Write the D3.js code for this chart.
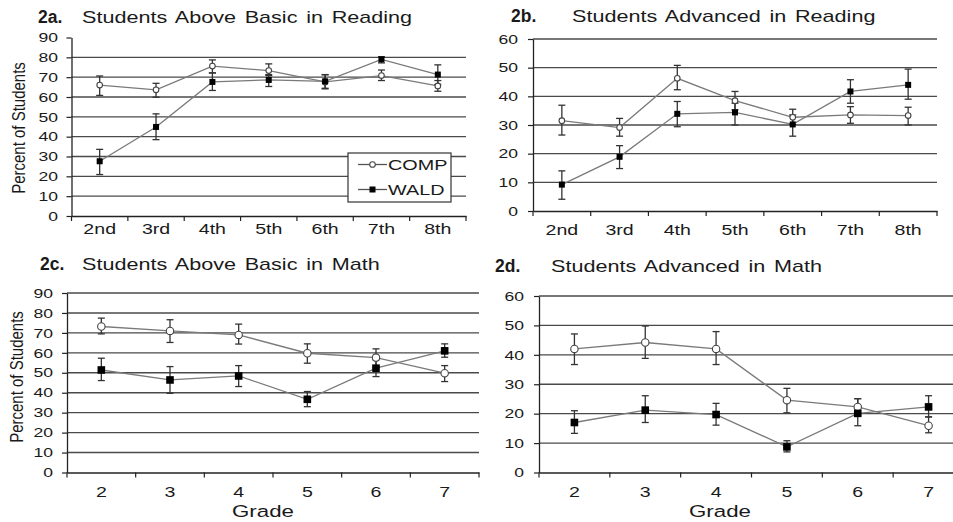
<!DOCTYPE html>
<html><head><meta charset="utf-8">
<script src="https://cdn.jsdelivr.net/npm/d3@7"></script>
<style>
body{margin:0;background:#fff}
svg{display:block;background:#fff}
text{font-family:"Liberation Sans",Arial,sans-serif;fill:#1a1a1a}
</style>
</head><body>
<svg id="c" width="953" height="522"></svg>
<script>
// ---------- data ----------
const readingGrades = ["2nd","3rd","4th","5th","6th","7th","8th"];
const mathGrades = ["2","3","4","5","6","7"];
const ticks90 = [0,10,20,30,40,50,60,70,80,90];
const ticks60 = [0,10,20,30,40,50,60];
const seriesNames = ["COMP","WALD"];

// 2a Students Above Basic in Reading
const compReadBasic   = [66.0, 63.6, 75.6, 73.3, 67.6, 70.8, 65.6];
const compReadBasicLo = [60.8, 59.9, 72.2, 70.8, 64.4, 68.3, 62.9];
const compReadBasicHi = [70.6, 66.9, 78.7, 76.7, 71.2, 73.6, 68.3];
const waldReadBasic   = [27.6, 44.9, 67.6, 68.6, 67.9, 79.0, 71.3];
const waldReadBasicLo = [20.9, 38.5, 63.3, 65.3, 64.1, 77.2, 66.3];
const waldReadBasicHi = [33.6, 51.5, 72.1, 71.3, 71.3, 80.3, 76.2];

// 2b Students Advanced in Reading
const compReadAdv   = [31.5, 29.1, 46.3, 38.5, 32.7, 33.5, 33.3];
const compReadAdvLo = [26.5, 26.1, 42.3, 35.3, 30.2, 30.6, 30.0];
const compReadAdvHi = [36.9, 32.3, 50.8, 41.7, 35.5, 36.4, 36.2];
const waldReadAdv   = [ 9.2, 18.9, 33.9, 34.4, 30.2, 41.7, 44.0];
const waldReadAdvLo = [ 4.1, 14.8, 29.4, 30.0, 26.1, 37.6, 39.0];
const waldReadAdvHi = [14.0, 22.8, 38.2, 37.6, 33.5, 45.8, 49.5];

// 2c Students Above Basic in Math
const compMathBasic   = [73.2, 71.0, 69.0, 59.8, 57.6, 49.8];
const compMathBasicLo = [69.5, 65.2, 64.4, 54.8, 52.8, 45.6];
const compMathBasicHi = [77.4, 76.6, 74.4, 64.5, 62.0, 53.6];
const waldMathBasic   = [51.4, 46.4, 48.4, 36.7, 52.3, 61.0];
const waldMathBasicLo = [46.1, 39.7, 43.1, 33.0, 48.1, 57.8];
const waldMathBasicHi = [57.3, 53.1, 53.6, 40.6, 56.5, 64.5];

// 2d Students Advanced in Math
const compMathAdv   = [42.0, 44.2, 42.0, 24.6, 22.3, 15.9];
const compMathAdvLo = [36.7, 38.8, 36.7, 20.3, 19.5, 13.5];
const compMathAdvHi = [47.1, 49.8, 47.9, 28.6, 25.1, 18.9];
const waldMathAdv   = [17.0, 21.2, 19.7,  8.7, 20.1, 22.3];
const waldMathAdvLo = [13.3, 17.0, 16.1,  7.0, 15.9, 18.9];
const waldMathAdvHi = [21.0, 26.1, 23.5, 10.8, 25.1, 26.1];

// ---------- drawing ----------
const S = 1.35;               // horizontal stretch of lettering in the reference
const svg = d3.select("#c");
const FONT = '"Liberation Sans",Arial,sans-serif';
const GRID = "#4a4a4a", AXIS = "#222", LINE = "#7a7a7a", ERR = "#333";

function stretchText(sel, sx) {
  sel.each(function () {
    const t = d3.select(this);
    const xx = +t.attr("x") || 0, yy = +t.attr("y") || 0;
    t.attr("x", 0).attr("y", 0).attr("transform", `translate(${xx},${yy}) scale(${sx},1)`);
  });
}

function panel(o) {
  const g = svg.append("g");
  const x = d3.scaleBand().domain(o.cats).range([o.left, o.right]);
  const y = d3.scaleLinear().domain([0, o.max]).range([o.bottom, o.top]);
  const cx = i => x(o.cats[i]) + x.bandwidth() / 2;

  // gridlines
  g.append("g").selectAll("line")
    .data(o.ticks.filter(t => t > 0 && (o.topGrid || t < o.max)))
    .join("line")
    .attr("x1", o.left).attr("x2", o.right)
    .attr("y1", d => y(d)).attr("y2", d => y(d))
    .attr("stroke", GRID).attr("stroke-width", 1.4);

  // y axis
  const ya = g.append("g").attr("transform", `translate(${o.left},0)`)
    .call(d3.axisLeft(y).tickValues(o.ticks).tickSize(5).tickPadding(o.ypad).tickSizeOuter(0));
  ya.attr("font-family", FONT).attr("font-size", 13);
  ya.select(".domain").attr("stroke", AXIS).attr("stroke-width", 1.3);
  ya.selectAll(".tick line").attr("stroke", AXIS).attr("stroke-width", 1.2);
  ya.selectAll(".tick text").attr("fill", "#1a1a1a");
  stretchText(ya.selectAll(".tick text"), S);

  // x axis
  const xa = g.append("g").attr("transform", `translate(0,${o.bottom})`)
    .call(d3.axisBottom(x).tickSize(0).tickSizeOuter(0));
  xa.attr("font-family", FONT).attr("font-size", o.xfont);
  xa.select(".domain").attr("stroke", AXIS).attr("stroke-width", 1.3);
  xa.selectAll(".tick text").attr("y", o.xlab).attr("dy", 0).attr("fill", "#1a1a1a");
  stretchText(xa.selectAll(".tick text"), S);
  const bounds = o.cats.map(c => x(c)).concat([x.range()[1]]);
  xa.append("g").selectAll("line").data(bounds).join("line")
    .attr("x1", d => d).attr("x2", d => d).attr("y1", 0).attr("y2", 5)
    .attr("stroke", AXIS).attr("stroke-width", 1.2);

  // series
  const series = [
    {name: "COMP", v: o.comp, lo: o.compLo, hi: o.compHi},
    {name: "WALD", v: o.wald, lo: o.waldLo, hi: o.waldHi}
  ];
  const line = d3.line().x((d, i) => cx(i)).y(d => y(d));
  series.forEach(s => {
    g.append("path").attr("d", line(s.v)).attr("fill", "none")
      .attr("stroke", LINE).attr("stroke-width", 1.3);
  });
  series.forEach(s => {
    const eg = g.append("g").attr("stroke", ERR).attr("stroke-width", 1.3);
    s.v.forEach((d, i) => {
      const xx = cx(i);
      eg.append("line").attr("x1", xx).attr("x2", xx).attr("y1", y(s.lo[i])).attr("y2", y(s.hi[i]));
      [s.lo[i], s.hi[i]].forEach(e => {
        eg.append("line").attr("x1", xx - o.cap).attr("x2", xx + o.cap).attr("y1", y(e)).attr("y2", y(e));
      });
    });
  });
  series.forEach(s => {
    s.v.forEach((d, i) => marker(g, s.name, cx(i), y(d), o.msize));
  });

  // titles
  g.append("text").attr("x", o.tx1).attr("y", o.ty).attr("font-size", 17.5)
    .attr("font-weight", "bold").attr("fill", "#111").text(o.label);
  const tt = g.append("text").attr("x", o.tx2).attr("y", o.ty).attr("font-size", 16)
    .attr("word-spacing", 2).text(o.title);
  stretchText(tt, S);

  if (o.ytitle) {
    g.append("text").attr("text-anchor", "middle").attr("font-size", 15)
      .attr("transform", `translate(${o.ytitle[0]},${o.ytitle[1]}) scale(1.2,1) rotate(-90)`)
      .text("Percent of Students");
  }
  if (o.xtitle) {
    const gt = g.append("text").attr("text-anchor", "middle").attr("font-size", 16.5)
      .attr("x", o.xtitle[0]).attr("y", o.xtitle[1]).text("Grade");
    stretchText(gt, S);
  }
  return {g, x, y};
}

function marker(g, name, x, y, m) {
  if (name === "COMP") {
    g.append("circle").attr("cx", x).attr("cy", y).attr("r", m.r)
      .attr("fill", "#fff").attr("stroke", "#444").attr("stroke-width", 1.1);
  } else {
    g.append("rect").attr("x", x - m.s / 2).attr("y", y - m.s / 2)
      .attr("width", m.s).attr("height", m.s).attr("fill", "#000");
  }
}

const small = {r: 2.8, s: 6};
const big = {r: 3.7, s: 7.6};

const pa = panel({cats: readingGrades, ticks: ticks90, max: 90, left: 71.5, right: 466, top: 37.5, bottom: 216,
  topGrid: false, ypad: 8.5, xfont: 14.5, xlab: 18, cap: 3.5, msize: small,
  comp: compReadBasic, compLo: compReadBasicLo, compHi: compReadBasicHi,
  wald: waldReadBasic, waldLo: waldReadBasicLo, waldHi: waldReadBasicHi,
  label: "2a.", title: "Students Above Basic in Reading", tx1: 38, tx2: 82, ty: 22.5, ytitle: [25, 128]});

panel({cats: readingGrades, ticks: ticks60, max: 60, left: 533, right: 937, top: 39, bottom: 211,
  topGrid: true, ypad: 10, xfont: 14.5, xlab: 24, cap: 3.5, msize: small,
  comp: compReadAdv, compLo: compReadAdvLo, compHi: compReadAdvHi,
  wald: waldReadAdv, waldLo: waldReadAdvLo, waldHi: waldReadAdvHi,
  label: "2b.", title: "Students Advanced in Reading", tx1: 511, tx2: 572, ty: 22});

panel({cats: mathGrades, ticks: ticks90, max: 90, left: 67, right: 479, top: 293, bottom: 472.5,
  topGrid: true, ypad: 9, xfont: 14.5, xlab: 24, cap: 3.5, msize: big,
  comp: compMathBasic, compLo: compMathBasicLo, compHi: compMathBasicHi,
  wald: waldMathBasic, waldLo: waldMathBasicLo, waldHi: waldMathBasicHi,
  label: "2c.", title: "Students Above Basic in Math", tx1: 40, tx2: 82, ty: 270, ytitle: [23, 377], xtitle: [263, 517]});

panel({cats: mathGrades, ticks: ticks60, max: 60, left: 539, right: 964, top: 296, bottom: 472.5,
  topGrid: true, ypad: 10, xfont: 14.5, xlab: 24, cap: 3.5, msize: big,
  comp: compMathAdv, compLo: compMathAdvLo, compHi: compMathAdvHi,
  wald: waldMathAdv, waldLo: waldMathAdvLo, waldHi: waldMathAdvHi,
  label: "2d.", title: "Students Advanced in Math", tx1: 495, tx2: 551, ty: 271.5, xtitle: [720, 517]});

// legend (panel 2a)
const lg = pa.g.append("g");
lg.append("rect").attr("x", 348).attr("y", 153).attr("width", 103).attr("height", 49)
  .attr("fill", "#fff").attr("stroke", "#333").attr("stroke-width", 1.2);
seriesNames.forEach((n, i) => {
  const yy = 164.5 + i * 25;
  lg.append("line").attr("x1", 358).attr("x2", 387).attr("y1", yy).attr("y2", yy)
    .attr("stroke", "#555").attr("stroke-width", 1.3);
  marker(lg, n, 372.5, yy, small);
  const t = lg.append("text").attr("x", 388).attr("y", yy + 5.5).attr("font-size", 15).text(n);
  stretchText(t, 1.32);
});
</script>
</body></html>
